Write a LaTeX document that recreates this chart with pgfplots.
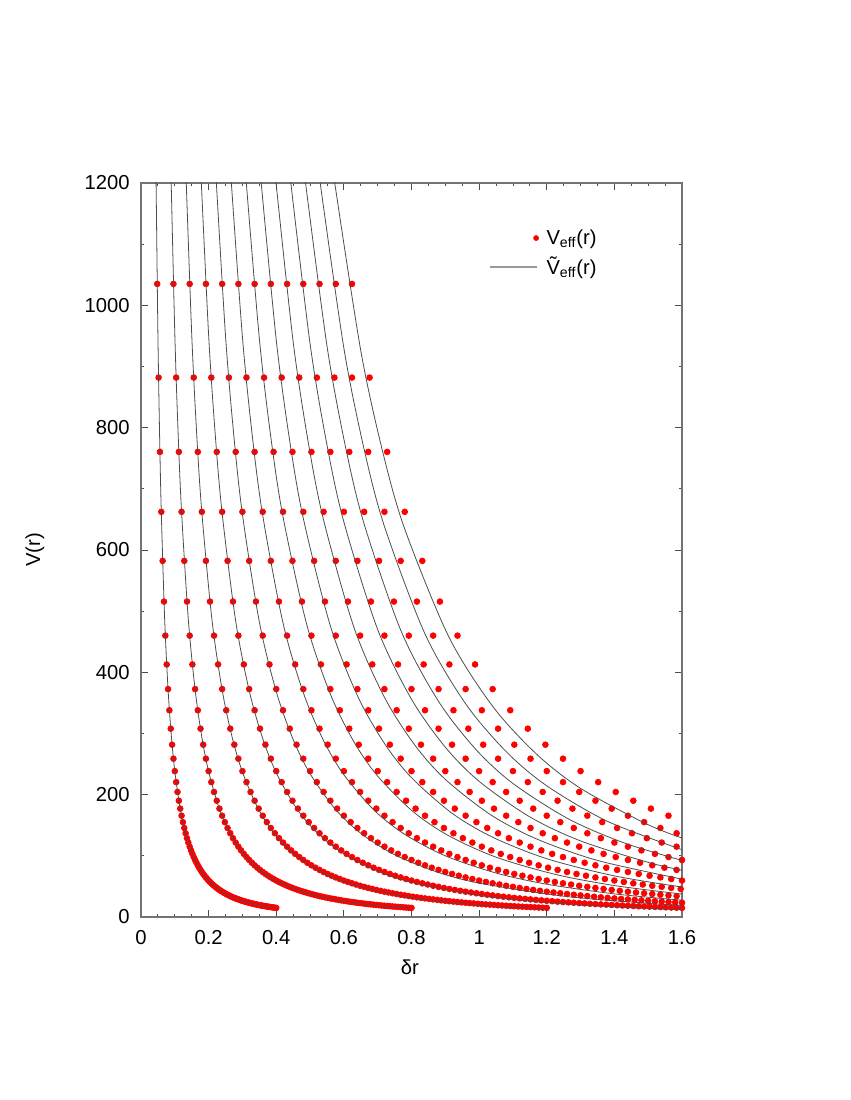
\documentclass[border=0pt]{standalone}
\usepackage{fontspec}
\setmainfont{Liberation Sans}
\usepackage{pgfplots}
\pgfplotsset{compat=1.18}
\usepackage{pgfplotstable}

% V(r) rows, one column of r for each of the 13 curves
\pgfplotstableread{
V r1 r2 r3 r4 r5 r6 r7 r8 r9 r10 r11 r12 r13
1035.0 0.048 0.096 0.144 0.192 0.240 0.288 0.336 0.384 0.432 0.480 0.528 0.576 0.624
881.9 0.052 0.104 0.156 0.208 0.260 0.312 0.364 0.416 0.468 0.520 0.572 0.624 0.676
760.4 0.056 0.112 0.168 0.224 0.280 0.336 0.392 0.448 0.504 0.560 0.616 0.672 0.728
662.4 0.060 0.120 0.180 0.240 0.300 0.360 0.420 0.480 0.540 0.600 0.660 0.720 0.780
582.2 0.064 0.128 0.192 0.256 0.320 0.384 0.448 0.512 0.576 0.640 0.704 0.768 0.832
515.7 0.068 0.136 0.204 0.272 0.340 0.408 0.476 0.544 0.612 0.680 0.748 0.816 0.884
460.0 0.072 0.144 0.216 0.288 0.360 0.432 0.504 0.576 0.648 0.720 0.792 0.864 0.936
412.9 0.076 0.152 0.228 0.304 0.380 0.456 0.532 0.608 0.684 0.760 0.836 0.912 0.988
372.6 0.080 0.160 0.240 0.320 0.400 0.480 0.560 0.640 0.720 0.800 0.880 0.960 1.040
338.0 0.084 0.168 0.252 0.336 0.420 0.504 0.588 0.672 0.756 0.840 0.924 1.008 1.092
307.9 0.088 0.176 0.264 0.352 0.440 0.528 0.616 0.704 0.792 0.880 0.968 1.056 1.144
281.7 0.092 0.184 0.276 0.368 0.460 0.552 0.644 0.736 0.828 0.920 1.012 1.104 1.196
258.8 0.096 0.192 0.288 0.384 0.480 0.576 0.672 0.768 0.864 0.960 1.056 1.152 1.248
238.5 0.100 0.200 0.300 0.400 0.500 0.600 0.700 0.800 0.900 1.000 1.100 1.200 1.300
220.5 0.104 0.208 0.312 0.416 0.520 0.624 0.728 0.832 0.936 1.040 1.144 1.248 1.352
204.4 0.108 0.216 0.324 0.432 0.540 0.648 0.756 0.864 0.972 1.080 1.188 1.296 1.404
190.1 0.112 0.224 0.336 0.448 0.560 0.672 0.784 0.896 1.008 1.120 1.232 1.344 1.456
177.2 0.116 0.232 0.348 0.464 0.580 0.696 0.812 0.928 1.044 1.160 1.276 1.392 1.508
165.6 0.120 0.240 0.360 0.480 0.600 0.720 0.840 0.960 1.080 1.200 1.320 1.440 1.560
155.1 0.124 0.248 0.372 0.496 0.620 0.744 0.868 0.992 1.116 1.240 1.364 1.488 nan
145.5 0.128 0.256 0.384 0.512 0.640 0.768 0.896 1.024 1.152 1.280 1.408 1.536 nan
136.9 0.132 0.264 0.396 0.528 0.660 0.792 0.924 1.056 1.188 1.320 1.452 1.584 nan
128.9 0.136 0.272 0.408 0.544 0.680 0.816 0.952 1.088 1.224 1.360 1.496 nan nan
121.7 0.140 0.280 0.420 0.560 0.700 0.840 0.980 1.120 1.260 1.400 1.540 nan nan
115.0 0.144 0.288 0.432 0.576 0.720 0.864 1.008 1.152 1.296 1.440 1.584 nan nan
108.9 0.148 0.296 0.444 0.592 0.740 0.888 1.036 1.184 1.332 1.480 nan nan nan
103.2 0.152 0.304 0.456 0.608 0.760 0.912 1.064 1.216 1.368 1.520 nan nan nan
98.0 0.156 0.312 0.468 0.624 0.780 0.936 1.092 1.248 1.404 1.560 nan nan nan
93.2 0.160 0.320 0.480 0.640 0.800 0.960 1.120 1.280 1.440 1.600 nan nan nan
88.7 0.164 0.328 0.492 0.656 0.820 0.984 1.148 1.312 1.476 nan nan nan nan
84.5 0.168 0.336 0.504 0.672 0.840 1.008 1.176 1.344 1.512 nan nan nan nan
80.6 0.172 0.344 0.516 0.688 0.860 1.032 1.204 1.376 1.548 nan nan nan nan
77.0 0.176 0.352 0.528 0.704 0.880 1.056 1.232 1.408 1.584 nan nan nan nan
73.6 0.180 0.360 0.540 0.720 0.900 1.080 1.260 1.440 nan nan nan nan nan
70.4 0.184 0.368 0.552 0.736 0.920 1.104 1.288 1.472 nan nan nan nan nan
67.5 0.188 0.376 0.564 0.752 0.940 1.128 1.316 1.504 nan nan nan nan nan
64.7 0.192 0.384 0.576 0.768 0.960 1.152 1.344 1.536 nan nan nan nan nan
62.1 0.196 0.392 0.588 0.784 0.980 1.176 1.372 1.568 nan nan nan nan nan
59.6 0.200 0.400 0.600 0.800 1.000 1.200 1.400 1.600 nan nan nan nan nan
57.3 0.204 0.408 0.612 0.816 1.020 1.224 1.428 nan nan nan nan nan nan
55.1 0.208 0.416 0.624 0.832 1.040 1.248 1.456 nan nan nan nan nan nan
53.1 0.212 0.424 0.636 0.848 1.060 1.272 1.484 nan nan nan nan nan nan
51.1 0.216 0.432 0.648 0.864 1.080 1.296 1.512 nan nan nan nan nan nan
49.3 0.220 0.440 0.660 0.880 1.100 1.320 1.540 nan nan nan nan nan nan
47.5 0.224 0.448 0.672 0.896 1.120 1.344 1.568 nan nan nan nan nan nan
45.9 0.228 0.456 0.684 0.912 1.140 1.368 1.596 nan nan nan nan nan nan
44.3 0.232 0.464 0.696 0.928 1.160 1.392 nan nan nan nan nan nan nan
42.8 0.236 0.472 0.708 0.944 1.180 1.416 nan nan nan nan nan nan nan
41.4 0.240 0.480 0.720 0.960 1.200 1.440 nan nan nan nan nan nan nan
40.1 0.244 0.488 0.732 0.976 1.220 1.464 nan nan nan nan nan nan nan
38.8 0.248 0.496 0.744 0.992 1.240 1.488 nan nan nan nan nan nan nan
37.6 0.252 0.504 0.756 1.008 1.260 1.512 nan nan nan nan nan nan nan
36.4 0.256 0.512 0.768 1.024 1.280 1.536 nan nan nan nan nan nan nan
35.3 0.260 0.520 0.780 1.040 1.300 1.560 nan nan nan nan nan nan nan
34.2 0.264 0.528 0.792 1.056 1.320 1.584 nan nan nan nan nan nan nan
33.2 0.268 0.536 0.804 1.072 1.340 nan nan nan nan nan nan nan nan
32.2 0.272 0.544 0.816 1.088 1.360 nan nan nan nan nan nan nan nan
31.3 0.276 0.552 0.828 1.104 1.380 nan nan nan nan nan nan nan nan
30.4 0.280 0.560 0.840 1.120 1.400 nan nan nan nan nan nan nan nan
29.6 0.284 0.568 0.852 1.136 1.420 nan nan nan nan nan nan nan nan
28.8 0.288 0.576 0.864 1.152 1.440 nan nan nan nan nan nan nan nan
28.0 0.292 0.584 0.876 1.168 1.460 nan nan nan nan nan nan nan nan
27.2 0.296 0.592 0.888 1.184 1.480 nan nan nan nan nan nan nan nan
26.5 0.300 0.600 0.900 1.200 1.500 nan nan nan nan nan nan nan nan
25.8 0.304 0.608 0.912 1.216 1.520 nan nan nan nan nan nan nan nan
25.1 0.308 0.616 0.924 1.232 1.540 nan nan nan nan nan nan nan nan
24.5 0.312 0.624 0.936 1.248 1.560 nan nan nan nan nan nan nan nan
23.9 0.316 0.632 0.948 1.264 1.580 nan nan nan nan nan nan nan nan
23.3 0.320 0.640 0.960 1.280 1.600 nan nan nan nan nan nan nan nan
22.7 0.324 0.648 0.972 1.296 nan nan nan nan nan nan nan nan nan
22.2 0.328 0.656 0.984 1.312 nan nan nan nan nan nan nan nan nan
21.6 0.332 0.664 0.996 1.328 nan nan nan nan nan nan nan nan nan
21.1 0.336 0.672 1.008 1.344 nan nan nan nan nan nan nan nan nan
20.6 0.340 0.680 1.020 1.360 nan nan nan nan nan nan nan nan nan
20.2 0.344 0.688 1.032 1.376 nan nan nan nan nan nan nan nan nan
19.7 0.348 0.696 1.044 1.392 nan nan nan nan nan nan nan nan nan
19.2 0.352 0.704 1.056 1.408 nan nan nan nan nan nan nan nan nan
18.8 0.356 0.712 1.068 1.424 nan nan nan nan nan nan nan nan nan
18.4 0.360 0.720 1.080 1.440 nan nan nan nan nan nan nan nan nan
18.0 0.364 0.728 1.092 1.456 nan nan nan nan nan nan nan nan nan
17.6 0.368 0.736 1.104 1.472 nan nan nan nan nan nan nan nan nan
17.2 0.372 0.744 1.116 1.488 nan nan nan nan nan nan nan nan nan
16.9 0.376 0.752 1.128 1.504 nan nan nan nan nan nan nan nan nan
16.5 0.380 0.760 1.140 1.520 nan nan nan nan nan nan nan nan nan
16.2 0.384 0.768 1.152 1.536 nan nan nan nan nan nan nan nan nan
15.8 0.388 0.776 1.164 1.552 nan nan nan nan nan nan nan nan nan
15.5 0.392 0.784 1.176 1.568 nan nan nan nan nan nan nan nan nan
15.2 0.396 0.792 1.188 1.584 nan nan nan nan nan nan nan nan nan
14.9 0.400 0.800 1.200 1.600 nan nan nan nan nan nan nan nan nan
}\veff

\newcommand{\lbl}{\fontsize{11.5}{13}\selectfont}

\begin{document}
\begin{tikzpicture}
\path[use as bounding box] (-2.82,-3.66) rectangle (14.18,18.34);
\begin{axis}[
  at={(0,0)}, anchor=south west,
  width=10.82cm, height=14.68cm, scale only axis,
  xmin=0, xmax=1.6, ymin=0, ymax=1200,
  xtick={0,0.2,0.4,0.6,0.8,1,1.2,1.4,1.6},
  ytick={0,200,400,600,800,1000,1200},
  minor x tick num=3, minor y tick num=1,
  tick align=inside,
  major tick length=0.134cm, minor tick length=0.065cm,
  axis line style={black!55, line width=0.7pt},
  every tick/.style={black!70, line width=0.5pt},
  scaled ticks=false,
  /pgf/number format/1000 sep={},
  /pgf/number format/assume math mode=true,
  ticklabel style={font=\lbl},
  xticklabel style={yshift=-4pt},
  yticklabel style={xshift=-3pt},
  xlabel={δr}, ylabel={V(r)},
  label style={font=\lbl},
  xlabel style={at={(axis description cs:0.497,-0.068)}, anchor=center},
  ylabel style={at={(axis description cs:-0.196,0.5)}, anchor=center},
  clip mode=individual,
  legend style={draw=none, fill=none, at={(axis description cs:0.643,0.942)},
    anchor=north west, font=\lbl, row sep=1.9pt, column sep=0.08cm, inner sep=0pt},
  legend cell align=left,
]
% points V_eff(r)
\addplot[only marks, mark=*, mark size=1.65pt, color=red,
  legend image code/.code={\path[draw=none, fill=none] (0cm,0cm) -- (0.94cm,0cm);
    \fill[red, draw=none] (0.92cm,0cm) circle (1.65pt);}] table[x=r1, y=V] {\veff};
\addlegendentry{V\textsubscript{eff}(r)}
\addplot[forget plot, only marks, mark=*, mark size=1.65pt, color=red] table[x=r2, y=V] {\veff};
\addplot[forget plot, only marks, mark=*, mark size=1.65pt, color=red] table[x=r3, y=V] {\veff};
\addplot[forget plot, only marks, mark=*, mark size=1.65pt, color=red] table[x=r4, y=V] {\veff};
\addplot[forget plot, only marks, mark=*, mark size=1.65pt, color=red] table[x=r5, y=V] {\veff};
\addplot[forget plot, only marks, mark=*, mark size=1.65pt, color=red] table[x=r6, y=V] {\veff};
\addplot[forget plot, only marks, mark=*, mark size=1.65pt, color=red] table[x=r7, y=V] {\veff};
\addplot[forget plot, only marks, mark=*, mark size=1.65pt, color=red] table[x=r8, y=V] {\veff};
\addplot[forget plot, only marks, mark=*, mark size=1.65pt, color=red] table[x=r9, y=V] {\veff};
\addplot[forget plot, only marks, mark=*, mark size=1.65pt, color=red] table[x=r10, y=V] {\veff};
\addplot[forget plot, only marks, mark=*, mark size=1.65pt, color=red] table[x=r11, y=V] {\veff};
\addplot[forget plot, only marks, mark=*, mark size=1.65pt, color=red] table[x=r12, y=V] {\veff};
\addplot[forget plot, only marks, mark=*, mark size=1.65pt, color=red] table[x=r13, y=V] {\veff};

% lines V~_eff(r)
\addplot[smooth, black!70, line width=0.45pt,
  legend image code/.code={\draw[black!40, line width=1pt] (0cm,0cm) -- (0.94cm,0cm);}]
coordinates {(0.044,1231.7)(0.05,953.8)(0.055,788.2)(0.06,662.3)(0.07,486.5)(0.08,372.5)(0.09,294.2)(0.1,238.3)(0.115,180.1)(0.13,140.9)(0.15,105.8)(0.175,77.7)(0.2,59.4)(0.25,38.0)(0.3,26.3)(0.35,19.3)(0.4,14.7)};
\addlegendentry{\~{V}\textsubscript{eff}(r)}
\addplot[forget plot, smooth, black!70, line width=0.45pt]
coordinates {(0.088,1231.2)(0.1,953.3)(0.11,787.7)(0.12,661.8)(0.14,486.0)(0.16,372.0)(0.18,293.7)(0.2,237.8)(0.23,179.6)(0.26,140.4)(0.3,105.3)(0.35,77.2)(0.4,58.9)(0.5,37.5)(0.6,25.8)(0.7,18.8)(0.8,14.2)};
\addplot[forget plot, smooth, black!70, line width=0.45pt]
coordinates {(0.132,1230.4)(0.15,952.5)(0.165,786.9)(0.18,661.0)(0.21,485.2)(0.24,371.2)(0.27,292.9)(0.3,237.0)(0.345,178.8)(0.39,139.6)(0.45,104.5)(0.525,76.4)(0.6,58.1)(0.75,36.7)(0.9,25.0)(1.05,18.0)(1.2,13.4)};
\addplot[forget plot, smooth, black!70, line width=0.45pt]
coordinates {(0.176,1229.2)(0.2,951.3)(0.22,785.7)(0.24,659.8)(0.28,484.0)(0.32,370.0)(0.36,291.7)(0.4,235.8)(0.46,177.6)(0.52,138.4)(0.6,103.3)(0.7,75.2)(0.8,56.9)(1.0,35.5)(1.2,23.8)(1.4,16.8)(1.6,12.2)};
\addplot[forget plot, smooth, black!70, line width=0.45pt]
coordinates {(0.22,1227.7)(0.25,949.8)(0.275,784.2)(0.3,658.3)(0.35,482.5)(0.4,368.5)(0.45,290.2)(0.5,234.3)(0.575,176.1)(0.65,136.9)(0.75,101.8)(0.875,73.7)(1.0,55.4)(1.25,34.0)(1.5,22.3)(1.6,19.1)};
\addplot[forget plot, smooth, black!70, line width=0.45pt]
coordinates {(0.264,1225.9)(0.3,948.0)(0.33,782.4)(0.36,656.5)(0.42,480.7)(0.48,366.7)(0.54,288.4)(0.6,232.5)(0.69,174.3)(0.78,135.1)(0.9,100.0)(1.05,71.9)(1.2,53.6)(1.4,37.8)(1.6,27.5)};
\addplot[forget plot, smooth, black!70, line width=0.45pt]
coordinates {(0.308,1223.7)(0.35,945.8)(0.385,780.2)(0.42,654.3)(0.49,478.5)(0.56,364.5)(0.63,286.2)(0.7,230.3)(0.805,172.1)(0.91,132.9)(1.05,97.8)(1.225,69.7)(1.4,51.4)(1.6,37.5)};
\addplot[forget plot, smooth, black!70, line width=0.45pt]
coordinates {(0.352,1221.2)(0.4,943.3)(0.44,777.7)(0.48,651.8)(0.56,476.0)(0.64,362.0)(0.72,283.7)(0.8,227.8)(0.92,169.6)(1.04,130.4)(1.2,95.3)(1.4,67.2)(1.6,48.9)};
\addplot[forget plot, smooth, black!70, line width=0.45pt]
coordinates {(0.396,1218.4)(0.45,940.5)(0.495,774.9)(0.54,649.0)(0.63,473.2)(0.72,359.2)(0.81,280.9)(0.9,225.0)(1.035,166.8)(1.17,127.6)(1.35,92.5)(1.6,61.9)};
\addplot[forget plot, smooth, black!70, line width=0.45pt]
coordinates {(0.44,1215.2)(0.5,937.3)(0.55,771.7)(0.6,645.8)(0.7,470.0)(0.8,356.0)(0.9,277.7)(1.0,221.8)(1.15,163.6)(1.3,124.4)(1.5,89.3)(1.6,76.5)};
\addplot[forget plot, smooth, black!70, line width=0.45pt]
coordinates {(0.484,1211.7)(0.55,933.8)(0.605,768.2)(0.66,642.3)(0.77,466.5)(0.88,352.5)(0.99,274.2)(1.1,218.3)(1.265,160.1)(1.43,120.9)(1.6,92.5)};
\addplot[forget plot, smooth, black!70, line width=0.45pt]
coordinates {(0.528,1207.9)(0.6,930.0)(0.66,764.4)(0.72,638.5)(0.84,462.7)(0.96,348.7)(1.08,270.4)(1.2,214.5)(1.38,156.3)(1.6,110.1)};
\addplot[forget plot, smooth, black!70, line width=0.45pt]
coordinates {(0.572,1203.7)(0.65,925.8)(0.715,760.2)(0.78,634.3)(0.91,458.5)(1.04,344.5)(1.17,266.2)(1.3,210.3)(1.495,152.1)(1.6,129.2)};
\end{axis}
\end{tikzpicture}
\end{document}
